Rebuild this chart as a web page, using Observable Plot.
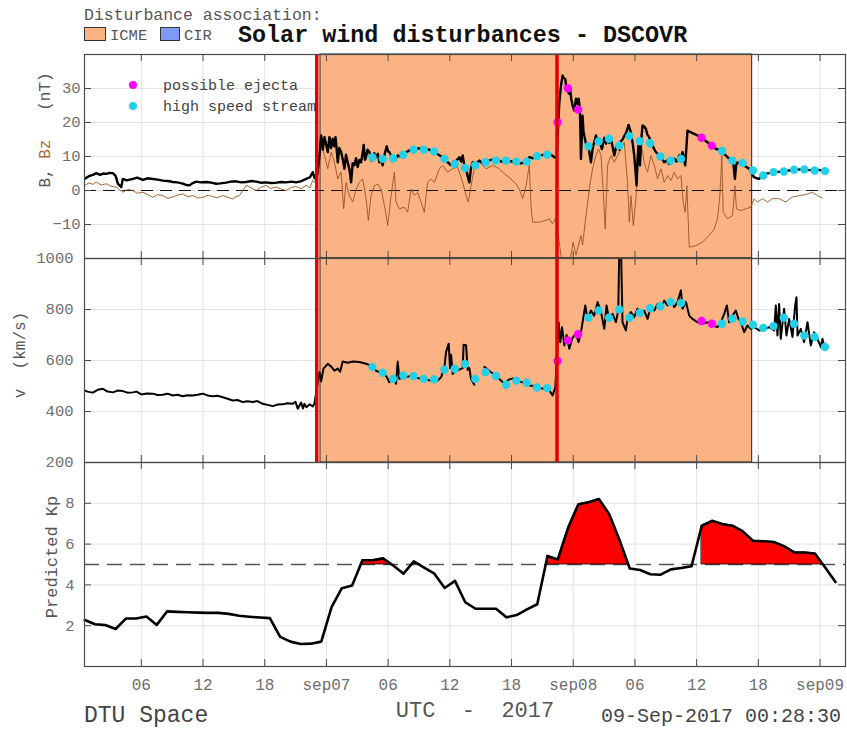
<!DOCTYPE html>
<html><head><meta charset="utf-8">
<script src="https://cdn.jsdelivr.net/npm/d3@7"></script>
<script src="https://cdn.jsdelivr.net/npm/@observablehq/plot@0.6"></script>
<style>
body{margin:0;background:#fff;}
#chart{position:relative;width:847px;height:729px;overflow:hidden;background:#fff;}
#chart svg{position:absolute;left:0;}
#chart svg.overlay text{white-space:pre;}
</style></head><body><div id="chart"></div>
<script>
// All times are hours counted from 2017-09-06 00:00 UTC
const timeDomainHours = [0.475, 74.475];
const xTickHours = [6, 12, 18, 24, 30, 36, 42, 48, 54, 60, 66, 72];
const icmeHours = [[23.42, 65.40]];
const shockHours = [23.06, 46.42];
const bTicks = [-10, 0, 10, 20, 30];
const vTicks = [200, 400, 600, 800, 1000];
const kpTicks = [2, 4, 6, 8];
const kpStorm = 5;

// |B| (nT): [hour, value]
const bField = [
[0.48,3.4],[0.9,4.2],[1.3,4.6],[1.62,5.1],[2.0,4.6],[2.3,5.0],[2.59,4.9],[2.9,5.2],[3.23,5.1],[3.5,4.3],[3.72,2.0],[4.05,1.0],[4.2,3.4],[4.6,3.0],[5.18,3.4],[5.6,3.8],[6.15,3.1],[6.6,3.6],[7.12,3.4],[7.6,3.2],[8.09,2.9],[8.6,2.8],[9.06,2.5],[9.5,2.4],[10.03,2.0],[10.4,1.6],[10.69,1.5],[11.0,2.2],[11.34,2.6],[11.8,2.4],[12.31,2.5],[12.8,2.3],[13.28,2.0],[13.7,2.1],[14.25,2.3],[14.7,2.6],[15.22,2.7],[15.7,2.4],[16.2,2.5],[16.7,2.8],[17.17,2.6],[17.6,2.3],[18.14,2.4],[18.6,2.2],[19.11,2.3],[19.6,2.5],[20.08,2.4],[20.6,2.6],[21.06,2.4],[21.5,2.7],[22.03,3.4],[22.4,3.9],[22.67,5.4],[22.85,3.6],[23.1,4.5],
[23.32,10.3],[23.49,16.2],[23.65,12.0],[23.81,15.7],[23.97,13.5],[24.13,11.3],[24.29,15.7],[24.45,12.5],[24.61,15.2],[24.75,13.0],[24.88,15.7],[25.0,12.0],[25.1,8.3],[25.25,12.5],[25.43,11.3],[25.6,9.0],[25.75,6.4],[25.9,10.5],[26.07,8.3],[26.25,6.0],[26.4,2.4],[26.55,8.0],[26.72,7.4],[26.88,9.5],[27.04,6.9],[27.2,9.0],[27.37,8.3],[27.5,10.5],[27.62,13.4],[27.75,9.0],[27.86,10.0],[28.0,12.0],[28.18,11.3],[28.35,8.8],[28.5,9.3],[28.65,11.0],[28.83,9.8],[29.0,10.8],[29.15,8.3],[29.3,9.5],[29.47,7.4],[29.65,10.5],[29.86,13.0],[30.0,11.5],[30.12,11.3],[30.3,10.2],[30.44,9.8],[30.7,9.0],[30.93,10.3],[31.2,10.0],[31.42,10.8],[31.9,11.5],[32.39,12.3],[32.9,12.4],[33.52,12.3],[34.0,12.0],[34.5,11.3],[34.9,10.5],[35.3,9.8],[35.55,9.0],[35.79,8.3],[36.1,7.5],[36.44,8.3],[36.7,9.0],[36.93,9.8],[37.1,8.5],[37.25,10.3],[37.4,7.5],[37.58,6.4],[37.75,4.0],[37.9,2.4],[38.05,6.5],[38.22,8.3],[38.5,7.8],[38.87,8.8],[39.2,8.0],[39.52,8.5],[40.0,9.0],[40.49,9.3],[41.0,8.5],[41.46,8.8],[41.9,8.6],[42.44,8.3],[42.9,8.0],[43.41,8.3],[43.73,9.8],[44.05,9.5],[44.38,10.3],[45.0,10.4],[45.51,10.8],[45.85,10.5],[46.16,9.8],[46.38,9.5],
[46.55,20.0],[46.64,25.5],[46.81,30.9],[46.96,33.8],[47.1,33.0],[47.23,32.8],[47.35,29.5],[47.45,30.0],[47.58,28.5],[47.68,30.4],[47.8,27.0],[47.94,25.0],[48.1,23.5],[48.27,27.0],[48.4,25.5],[48.52,27.0],[48.65,24.0],[48.75,9.3],[48.91,22.0],[49.0,17.2],[49.12,15.5],[49.24,13.7],[49.49,13.0],[49.6,10.5],[49.72,8.3],[49.85,11.5],[49.95,13.2],[50.1,14.8],[50.21,16.2],[50.38,14.0],[50.53,15.2],[50.65,13.5],[50.79,12.2],[51.02,15.5],[51.2,13.8],[51.34,15.2],[51.5,14.0],[51.67,15.2],[51.85,12.5],[51.99,10.3],[52.15,12.5],[52.31,13.2],[52.5,12.0],[52.64,14.5],[52.8,15.0],[52.96,16.0],[53.15,17.0],[53.38,19.3],[53.61,17.0],[53.8,13.5],[53.93,10.3],[54.05,6.0],[54.16,1.5],[54.25,9.0],[54.35,13.6],[54.49,7.4],[54.6,14.5],[54.74,19.1],[54.9,18.8],[55.07,18.1],[55.2,16.5],[55.39,15.7],[55.55,14.0],[55.71,13.2],[55.9,12.0],[56.04,11.3],[56.2,10.8],[56.36,10.3],[56.6,9.5],[56.85,8.3],[57.1,8.8],[57.33,7.8],[57.6,8.5],[57.82,9.3],[58.05,8.5],[58.3,10.3],[58.45,9.0],[58.63,11.3],[58.75,9.5],[58.89,7.4],[59.11,17.6],[59.8,16.6],[60.47,15.5],[60.95,14.4],[61.44,13.3],[61.9,12.2],[62.2,12.0],[62.45,11.3],[62.84,10.3],[63.1,9.5],[63.33,9.3],[63.55,8.5],[63.72,3.4],[63.85,7.5],[63.97,8.3],[64.2,8.0],[64.46,7.8],[64.8,7.0],[65.11,6.4],[65.35,5.0],[65.59,3.9],[65.85,3.6],[66.08,3.4],[66.3,4.2],[66.57,4.9],[67.1,5.1],[67.7,5.4],[68.35,5.6],[69.0,5.9],[69.65,6.1],[70.29,6.2],[70.9,6.0],[71.59,6.1],[72.0,6.0],[72.4,5.9]
];

// Bz (nT): [hour, value]
const bzField = [
[0.48,1.5],[0.9,2.2],[1.3,1.8],[1.62,2.5],[2.1,1.6],[2.59,2.0],[3.0,1.3],[3.56,1.0],[3.9,0.2],[4.2,-0.5],[4.7,0.3],[5.18,0],[5.6,-0.8],[6.15,-0.5],[6.6,-1.2],[7.12,-2.0],[7.6,-1.2],[8.09,-1.5],[8.6,-2.3],[9.06,-1.9],[9.5,-1.4],[10.03,-1.0],[10.5,-1.8],[11.01,-1.5],[11.5,-2.2],[11.98,-2.0],[12.5,-1.4],[12.95,-1.8],[13.4,-2.1],[13.92,-1.5],[14.4,-2.0],[14.89,-2.5],[15.2,-1.8],[15.55,-1.5],[15.9,0.2],[16.2,1.5],[16.7,0.8],[17.17,0],[17.6,0.9],[18.14,1.5],[18.6,0.6],[19.11,1.0],[19.6,0.4],[20.08,0],[20.6,0.9],[21.06,1.2],[21.5,0.5],[22.03,1.5],[22.4,0.8],[22.67,3.0],[23.0,2.0],
[23.32,7.4],[23.49,13.7],[23.81,10.3],[24.13,6.4],[24.46,11.3],[24.78,8.3],[25.1,3.4],[25.43,5.4],[25.68,-5.4],[25.91,2.4],[26.23,-1.5],[26.56,-3.4],[26.89,0.4],[27.21,2.4],[27.53,3.4],[27.86,-2.4],[28.08,-8.8],[28.34,-1.5],[28.66,1.4],[28.99,1.9],[29.32,0.4],[29.64,-4.4],[29.96,-10.3],[30.29,-1.5],[30.61,5.4],[30.77,-3.4],[31.09,-5.4],[31.58,-4.9],[31.9,-6.4],[32.23,0.4],[32.55,-1.5],[32.87,-0.6],[33.2,-3.4],[33.52,-6.4],[33.84,2.4],[34.17,3.4],[34.5,2.4],[34.98,6.4],[35.3,7.4],[35.79,5.4],[36.27,6.4],[36.76,6.9],[37.25,2.4],[37.58,-1.5],[37.8,-3.4],[38.06,1.4],[38.38,6.4],[38.87,8.3],[39.52,6.4],[40.16,7.4],[40.81,6.4],[41.3,4.9],[41.95,3.4],[42.44,1.9],[42.76,0.4],[43.08,-2.4],[43.41,1.4],[43.73,7.4],[43.89,-4.4],[44.05,-9.3],[44.7,-9.3],[45.35,-8.8],[45.67,-8.3],[45.99,-9.8],[46.26,-8.3],[46.38,-9.8],
[46.81,-19],[47.2,-24],[47.61,-22],[47.99,-15.2],[48.27,-19],[48.75,-13.2],[48.91,-16],[49.24,-7.4],[49.56,0.5],[49.88,6.4],[50.21,10.3],[50.46,12.2],[50.7,10.3],[50.92,-0.5],[51.11,-11.3],[51.34,7.4],[51.67,10.3],[51.99,8.3],[52.31,10.3],[52.64,12.2],[52.96,14.2],[53.28,2.4],[53.45,-9.3],[53.61,-1.5],[53.84,-10.3],[54.1,-2.4],[54.35,10.3],[54.58,14.2],[54.9,8.3],[55.23,5.4],[55.56,10.3],[55.88,7.4],[56.2,3.4],[56.53,6.4],[56.85,2.4],[57.17,4.4],[57.5,2.9],[57.82,5.4],[58.14,3.4],[58.47,4.4],[58.69,-3.4],[58.89,-6.4],[59.05,1.4],[59.28,-16.7],[59.93,-16.2],[60.57,-15.2],[61.22,-13.2],[61.71,-11.3],[62.03,-8.3],[62.26,-1.5],[62.45,10.3],[62.58,-6.4],[63.0,-8.3],[63.49,-7.4],[63.72,1.4],[63.87,-5.4],[64.3,-5.9],[64.79,-5.4],[65.27,-4.9],[65.59,-2.4],[65.92,-3.4],[66.4,-2.4],[66.89,-3.4],[67.37,-2.4],[68.02,-2.4],[68.67,-3.4],[69.32,-1.9],[69.97,-1.5],[70.62,-1.2],[71.26,-0.5],[71.74,-1.5],[72.23,-2.2]
];

// Solar wind speed (km/s): [hour, value]; null marks a data gap
const speed = [
[0.48,483],[0.77,478],[1.29,474],[1.75,485],[2.26,489],[2.72,478],[3.23,475],[3.69,482],[4.2,480],[4.66,474],[5.18,475],[5.54,478],[5.99,467],[6.51,471],[7.12,470],[7.58,465],[8.09,466],[8.55,470],[9.06,463],[9.52,466],[10.03,460],[10.49,464],[11.01,463],[11.46,466],[11.98,470],[12.44,463],[12.95,460],[13.41,462],[13.92,456],[14.38,450],[14.89,443],[15.35,445],[15.87,437],[16.32,440],[16.84,437],[17.29,441],[17.81,430],[18.27,426],[18.78,421],[19.24,427],[19.75,428],[20.21,432],[20.72,430],[20.99,438],[21.21,411],[21.54,435],[21.72,412],[21.86,430],[22.06,417],[22.35,428],[22.67,420],[22.83,430],
[23.32,554],[23.49,518],[23.71,568],[24.13,587],[24.46,576],[24.78,560],[25.1,568],[25.33,556],[25.58,596],[26.07,591],[26.56,596],[27.21,594],[27.86,587],[28.34,580],[28.83,560],[29.32,552],[29.8,540],[30.12,515],[30.44,534],[30.77,509],[30.93,596],[31.09,528],[31.58,534],[32.23,539],[32.87,531],[33.52,526],[34.17,522],[34.82,522],[35.15,534],[35.47,572],[35.63,633],[35.89,666],[36.02,570],[36.12,623],[36.28,547],[36.6,564],[36.92,564],[37.25,570],[37.34,662],[37.58,660],[37.73,564],[37.9,570],[38.06,528],[38.38,505],[38.8,null],[39.36,575],[40.01,554],[40.49,541],[40.81,528],[41.3,509],[41.78,526],[42.27,531],[42.75,518],[43.24,513],[43.73,502],[44.21,500],[44.7,492],[45.19,489],[45.67,483],[45.99,463],[46.26,495],
[46.58,750],[46.74,672],[46.91,730],[47.13,659],[47.35,700],[47.62,646],[47.94,690],[48.27,705],[48.52,672],[48.75,711],[48.91,750],[49.17,816],[49.39,763],[49.72,796],[50.04,776],[50.37,829],[50.7,790],[51.02,724],[51.24,816],[51.5,757],[51.82,783],[52.15,750],[52.38,796],[52.48,1050],[52.64,1050],[52.79,750],[53.12,718],[53.28,763],[53.61,790],[53.93,770],[54.25,803],[54.58,776],[54.9,796],[55.23,763],[55.56,816],[55.88,796],[56.2,822],[56.53,803],[56.85,835],[57.17,816],[57.5,839],[57.82,809],[58.14,829],[58.47,875],[58.63,803],[58.96,829],[59.28,776],[59.6,763],[60.08,750],[60.57,744],[61.06,750],[61.54,737],[62.03,731],[62.36,750],[62.68,783],[62.94,816],[63.16,750],[63.49,776],[63.81,796],[64.07,763],[64.3,750],[64.62,711],[64.94,737],[65.27,724],[65.59,731],[66.08,718],[66.57,722],[67.05,731],[67.54,718],[67.7,816],[67.86,698],[68.02,822],[68.18,685],[68.51,803],[68.73,698],[69.0,763],[69.32,692],[69.58,816],[69.71,848],[69.81,698],[70.13,724],[70.45,672],[70.78,750],[71.1,659],[71.42,711],[71.74,685],[72.08,652],[72.23,685],[72.4,659]
];

// Hourly disturbance markers
const markerHours = [28.475,29.475,30.475,31.475,32.475,33.475,34.475,35.475,36.475,37.475,38.475,39.475,40.475,41.475,42.475,43.475,44.475,45.475,46.475,47.475,48.475,49.475,50.475,51.475,52.475,53.475,54.475,55.475,56.475,57.475,58.475,60.475,61.475,62.475,63.475,64.475,65.475,66.475,67.475,68.475,69.475,70.475,71.475,72.475];
const markerType = ["h","h","h","h","h","h","h","h","h","h","h","h","h","h","h","h","h","h","e","e","e","h","h","h","h","h","h","h","h","h","h","e","e","h","h","h","h","h","h","h","h","h","h","h"];
const markerB = [9.8,9.3,9.5,10.5,12.0,12.0,11.5,9.3,7.8,6.6,7.4,8.3,8.8,8.8,8.5,8.5,10.1,10.5,20.1,30.1,23.8,13.0,14.4,15.2,13.2,16.0,14.5,13.9,10.0,8.8,9.3,15.5,13.2,11.6,8.8,8.1,5.9,4.4,5.4,5.6,6.1,6.2,5.9,5.7];
const markerV = [574,552,528,541,539,528,526,564,568,586,528,554,539,505,521,513,494,492,598,679,703,768,796,768,800,768,787,805,813,829,825,755,744,744,764,753,740,728,735,768,744,698,692,653];

// Predicted Kp, hourly from 00:30 on 6 Sep
const kpStartHour = 0.5;
const kpValues = [2.28,2.07,2.03,1.84,2.35,2.35,2.45,2.04,2.70,2.68,
2.66,2.64,2.63,2.63,2.58,2.49,2.44,2.40,2.37,1.45,
1.22,1.10,1.12,1.22,2.91,3.84,3.97,5.21,5.21,5.30,
4.95,4.55,5.15,4.85,4.55,3.85,4.20,3.15,2.83,2.83,
2.83,2.41,2.52,2.80,3.05,5.42,5.25,6.80,7.95,8.05,
8.21,7.47,6.20,4.80,4.73,4.52,4.50,4.76,4.83,4.91,
6.90,7.14,6.98,6.90,6.62,6.16,6.14,6.10,5.90,5.59,
5.59,5.54,4.85,4.14];

// ---------- build ----------
const T0 = Date.UTC(2017, 8, 6);
const toDate = h => new Date(T0 + h * 3600e3);
const xDomain = timeDomainHours.map(toDate);
const xTicks = xTickHours.map(toDate);
const icme = icmeHours.map(([a, b]) => ({start: toDate(a), end: toDate(b)}));
const shocks = shockHours.map(toDate);
const bData = bField.map(([h, v]) => ({t: toDate(h), v}));
const bzData = bzField.map(([h, v]) => ({t: toDate(h), v}));
const vData = speed.map(([h, v]) => ({t: toDate(h), v}));
const markers = markerHours.map((h, i) => ({t: toDate(h), type: markerType[i], b: markerB[i], v: markerV[i]}));
const kpData = kpValues.map((v, i) => ({t: toDate(kpStartHour + i), kp: v}));

// storm fill regions (runs above the Kp=5 threshold)
const runs = [];
let run = null;
kpData.forEach(d => {
  if (d.kp > kpStorm) { (run ||= []).push(d); }
  else if (run) {
    const p = run[run.length - 1];
    const f = (p.kp - kpStorm) / (p.kp - d.kp);
    run.push({t: new Date(+p.t + f * (d.t - p.t)), kp: kpStorm});
    runs.push(run); run = null;
  }
});
if (run) runs.push(run);
const stormArea = runs.filter(r => r.length > 2).flatMap((r, j) => r.map(d => ({...d, run: j})));

const W = 847, ML = 84, MR = 2;
const GRID = "#e3e3e3", AX = "#4a4a4a", LABEL = "#6e6e6e";
const ORANGE = "#fbb383", CIR = "#8099f4", RED = "#e80000", BROWN = "#9a5424";
const CYAN = "#22d0e8", MAGENTA = "#ff00ff";
const FONT = "'Liberation Mono', 'Courier New', monospace";
const pad = n => String(n).padStart(2, "0");
const fmtX = d => d.getUTCHours() === 0 ? "sep" + pad(d.getUTCDate()) : pad(d.getUTCHours());

const chart = document.getElementById("chart");

function panel({top, height, mt, mb, yDomain, yTicks, gridTicks, tickPadding, marks, xLabels}) {
  const plotH = height - mt - mb, plotW = W - ML - MR;
  const svg = Plot.plot({
    width: W, height, marginLeft: ML, marginRight: MR, marginTop: mt, marginBottom: mb,
    x: {type: "utc", domain: xDomain, axis: null, label: null},
    y: {domain: yDomain, axis: null, label: null},
    style: {background: "transparent", fontFamily: FONT, fontSize: "15.5px", overflow: "visible"},
    marks: [
      Plot.ruleX(xTicks, {stroke: GRID, strokeWidth: 1}),
      Plot.ruleY(gridTicks, {stroke: GRID, strokeWidth: 1}),
      ...marks,
      Plot.ruleX(xTicks, {stroke: AX, insetTop: plotH - 7}),
      Plot.ruleX(xTicks, {stroke: AX, insetBottom: plotH - 7}),
      Plot.ruleY(yTicks, {stroke: AX, insetRight: plotW - 7}),
      Plot.ruleY(yTicks, {stroke: AX, insetLeft: plotW - 7}),
      Plot.frame({stroke: AX, strokeWidth: 1.2}),
      Plot.axisY(yTicks, {tickSize: 0, tickPadding, label: null, fill: LABEL, fontSize: 15.5, fontFamily: FONT,
        tickFormat: d => String(d).replace("-", "\u2212")}),
      xLabels ? Plot.axisX(xTicks, {anchor: "bottom", tickSize: 0, tickPadding: 12, label: null, tickFormat: fmtX,
        fill: LABEL, fontSize: 16, fontFamily: FONT}) : null
    ]
  });
  svg.style.top = top + "px";
  chart.appendChild(svg);
}

const icmeRect = Plot.rect(icme, {x1: "start", x2: "end", fill: ORANGE, stroke: "#222", strokeWidth: 1});
const shockRules = Plot.ruleX(shocks, {stroke: RED, strokeWidth: 3.5});

panel({
  top: 44, height: 224, mt: 10, mb: 10, yDomain: [-20, 40], yTicks: bTicks, gridTicks: bTicks, tickPadding: 4,
  marks: [
    icmeRect,
    Plot.ruleY([0], {stroke: "#111", strokeWidth: 1.2, strokeDasharray: "12,7"}),
    Plot.line(bzData, {x: "t", y: "v", stroke: BROWN, strokeWidth: 0.9, clip: true}),
    Plot.line(bData, {x: "t", y: "v", stroke: "#000", strokeWidth: 2.4, strokeLinejoin: "round", clip: true}),
    Plot.dot(markers.filter(d => d.type === "h"), {x: "t", y: "b", r: 4.2, fill: CYAN}),
    Plot.dot(markers.filter(d => d.type === "e"), {x: "t", y: "b", r: 4.2, fill: MAGENTA}),
    shockRules
  ]
});

panel({
  top: 248, height: 224, mt: 10, mb: 10, yDomain: [200, 1000], yTicks: vTicks, gridTicks: vTicks, tickPadding: 11,
  marks: [
    icmeRect,
    Plot.line(vData, {x: "t", y: "v", stroke: "#000", strokeWidth: 2, strokeLinejoin: "round", clip: true}),
    Plot.dot(markers.filter(d => d.type === "h"), {x: "t", y: "v", r: 4.2, fill: CYAN}),
    Plot.dot(markers.filter(d => d.type === "e"), {x: "t", y: "v", r: 4.2, fill: MAGENTA}),
    shockRules
  ]
});

panel({
  top: 452, height: 254, mt: 10, mb: 40, yDomain: [0, 10], yTicks: kpTicks, gridTicks: kpTicks, tickPadding: 10, xLabels: true,
  marks: [
    Plot.ruleY([kpStorm], {stroke: "#555", strokeWidth: 1.5, strokeDasharray: "15,8"}),
    Plot.areaY(stormArea, {x: "t", y1: kpStorm, y2: "kp", z: "run", fill: "#ff0000", stroke: "#000", strokeWidth: 0.8}),
    Plot.line(kpData, {x: "t", y: "kp", stroke: "#000", strokeWidth: 2.6, strokeLinejoin: "round"})
  ]
});

// ---------- annotations ----------
const ov = d3.create("svg").attr("class", "overlay").attr("width", 847).attr("height", 729).style("top", "0px")
  .attr("xml:space", "preserve")
  .style("pointer-events", "none").style("font-family", FONT);
ov.append("text").attr("x", 84).attr("y", 20).attr("font-size", 16.5).attr("fill", "#555").text("Disturbance association:");
ov.append("rect").attr("x", 84.5).attr("y", 27.5).attr("width", 21).attr("height", 13).attr("fill", ORANGE).attr("stroke", "#333");
ov.append("text").attr("x", 110).attr("y", 40).attr("font-size", 15.5).attr("fill", "#555").text("ICME");
ov.append("rect").attr("x", 160.5).attr("y", 27.5).attr("width", 19).attr("height", 13).attr("fill", CIR).attr("stroke", "#333");
ov.append("text").attr("x", 184).attr("y", 40).attr("font-size", 15.5).attr("fill", "#555").text("CIR");
ov.append("text").attr("x", 238).attr("y", 42).attr("font-size", 23.4).attr("font-weight", "bold").attr("fill", "#111")
  .text("Solar wind disturbances - DSCOVR");
// marker legend
ov.append("circle").attr("cx", 133).attr("cy", 85).attr("r", 4).attr("fill", MAGENTA);
ov.append("text").attr("x", 163).attr("y", 90).attr("font-size", 15).attr("fill", "#444").text("possible ejecta");
ov.append("circle").attr("cx", 133).attr("cy", 106).attr("r", 4).attr("fill", CYAN);
ov.append("text").attr("x", 163).attr("y", 111).attr("font-size", 15).attr("fill", "#444").text("high speed stream");
// y-axis titles
const t1 = ov.append("text").attr("transform", "translate(50,130) rotate(-90)").attr("text-anchor", "middle")
  .attr("font-size", 16).attr("fill", "#555");
t1.append("tspan").text("B, ");
t1.append("tspan").attr("fill", "#a86a3c").text("Bz");
t1.append("tspan").text("   (nT)");
ov.append("text").attr("transform", "translate(25,355) rotate(-90)").attr("text-anchor", "middle")
  .attr("font-size", 16).attr("fill", "#555").text("v  (km/s)");
ov.append("text").attr("transform", "translate(57,557) rotate(-90)").attr("text-anchor", "middle")
  .attr("font-size", 17).attr("fill", "#555").text("Predicted Kp");
// footer
ov.append("text").attr("x", 84).attr("y", 722).attr("font-size", 23).attr("fill", "#444").text("DTU Space");
ov.append("text").attr("x", 475).attr("y", 717).attr("text-anchor", "middle").attr("font-size", 22).attr("fill", "#555").text("UTC  -  2017");
ov.append("text").attr("x", 841).attr("y", 722).attr("text-anchor", "end").attr("font-size", 20).attr("fill", "#444").text("09-Sep-2017 00:28:30");
chart.appendChild(ov.node());
</script></body></html>
